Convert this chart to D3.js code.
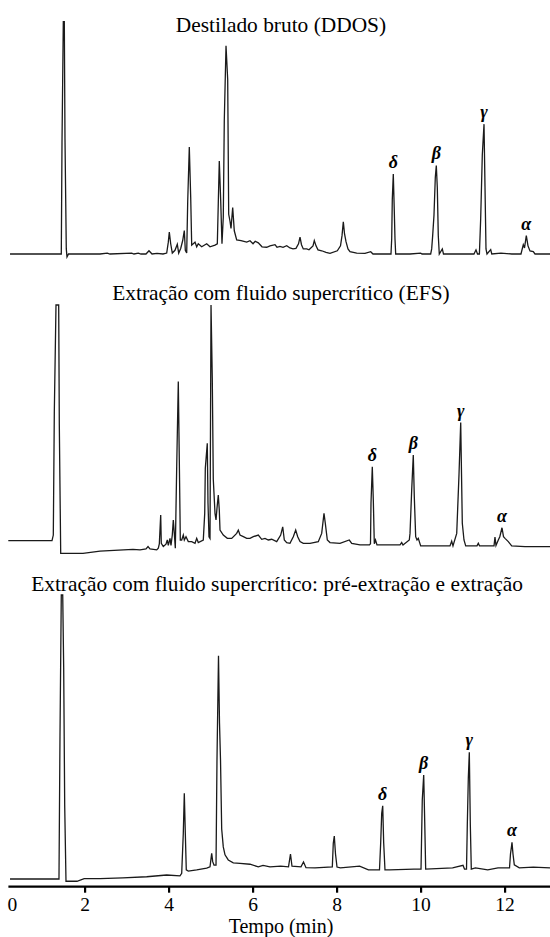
<!DOCTYPE html>
<html><head><meta charset="utf-8">
<script src="https://cdn.jsdelivr.net/npm/d3@7"></script>
<style>
html,body{margin:0;padding:0;background:#fff;}
svg{display:block;}
svg text{font-family:"Liberation Serif","DejaVu Serif","Noto Serif",serif;}
</style></head><body>
<svg id="chart" width="550" height="937"></svg>
<script>
// ---- data (time in min, signal in % of the solvent peak of each run) ----
const panelTitles = [
  "Destilado bruto (DDOS)",
  "Extração com fluido supercrítico (EFS)",
  "Extração com fluido supercrítico: pré-extração e extração"
];
const greekLabels = ["δ", "β", "γ", "α"];
const ddosPeakTimes = [9.350, 10.374, 11.510, 12.517];
const efsPeakTimes = [8.850, 9.826, 10.955, 11.938];
const efsPrePeakTimes = [9.098, 10.074, 11.160, 12.176];
const xTickValues = [0, 2, 4, 6, 8, 10, 12];
const xAxisTitle = "Tempo (min)";

const ddosTrace = [[0.224,0],[1.414,0],[1.445,0],[1.462,47.9],[1.493,100],[1.517,100],[1.533,49.6],[1.564,2.2],[1.581,-1.3],[1.617,0],
[2.367,0],[2.540,0.4],[2.605,0],[3.121,0.4],[3.176,0],[3.279,0.4],[3.343,0],[3.462,0],[3.533,1.4],[3.605,0],[3.724,0.3],[3.867,0],
[3.955,0.4],[3.993,5.1],[4.017,9.4],[4.050,4.4],[4.088,0.4],[4.152,1.6],[4.207,4.2],[4.240,0.4],[4.288,2.4],[4.336,5.8],[4.374,10.1],[4.398,1.6],[4.431,0.4],[4.455,22.6],[4.493,46.1],[4.526,24.6],[4.550,3.8],[4.629,5.1],[4.669,3.1],[4.707,4.4],[4.788,3.1],[4.907,4.4],[4.986,3.1],[5.105,3.8],[5.160,4.4],[5.183,21.8],[5.207,40.0],[5.240,23.3],[5.271,4.4],[5.302,15.8],[5.326,57.5],[5.367,89.6],[5.407,75.1],[5.431,17.1],[5.462,14.1],[5.486,11.0],[5.526,20.0],[5.564,10.0],[5.621,6.1],[5.724,5.8],[5.860,5.1],[5.938,5.7],[6.010,4.4],[6.062,5.5],[6.136,4.8],[6.224,3.1],[6.336,2.9],[6.414,3.5],[6.533,4.0],[6.581,2.9],[6.652,3.3],[6.724,2.9],[6.812,3.6],[6.890,2.6],[6.962,2.2],[7.033,2.4],[7.093,4.4],[7.129,7.3],[7.164,4.0],[7.207,2.2],[7.288,2.2],[7.343,1.8],[7.438,3.5],[7.469,5.8],[7.510,3.5],[7.557,1.8],[7.645,1.4],[7.748,0.7],[7.843,0.3],[8.017,1.4],[8.093,3.5],[8.129,7.9],[8.160,13.9],[8.188,8.8],[8.224,5.3],[8.271,2.2],[8.319,1.0],[8.479,0.4],[8.676,0.3],[8.812,1.0],[8.867,0],
[9.295,0],[9.312,6.6],[9.326,23.4],[9.350,34.4],[9.374,18.3],[9.390,6.6],[9.407,0],[9.748,0],[10.002,0.4],[10.033,0],
[10.240,0],[10.264,2.2],[10.288,8.0],[10.319,16.8],[10.350,32.9],[10.374,38.1],[10.398,28.5],[10.421,8.0],[10.445,0],[10.517,2.2],[10.545,0],
[11.271,0],[11.319,1.8],[11.355,0],[11.400,0],[11.431,15.4],[11.469,42.5],[11.510,55.9],[11.533,29.3],[11.557,2.2],[11.581,0],[11.669,1.9],[11.695,0],[11.912,0.4],[12.171,0],
[12.390,0],[12.445,4.0],[12.474,2.6],[12.517,7.9],[12.557,3.5],[12.605,1.3],[12.683,1.0],[12.724,0],[13.081,0]];

const efsTrace = [[0.183,0],[1.224,0],[1.255,2.4],[1.279,54.7],[1.319,100],[1.383,100],[1.398,49.1],[1.431,-5.4],[1.486,-5.4],[1.962,-5.4],[2.367,-4.4],[3.152,-3.7],[3.319,-3.9],[3.462,-3.5],[3.510,-2.5],[3.557,-3.5],[3.717,-3.9],[3.755,-3.2],[3.779,-1.4],[3.812,10.9],[3.826,-1.1],[3.874,-2.5],[3.938,-1.5],[3.969,0.3],[3.993,-2.0],[4.033,1.0],[4.057,-2.0],[4.088,2.4],[4.112,8.8],[4.136,3.1],[4.160,-3.2],[4.193,31.4],[4.231,67.5],[4.255,34.2],[4.279,0.3],[4.312,0.3],[4.350,2.4],[4.374,0.3],[4.414,1.7],[4.469,-0.4],[4.550,-0.4],[4.629,-1.1],[4.669,1.0],[4.707,-0.8],[4.826,0.3],[4.860,11.6],[4.874,30.7],[4.921,41.3],[4.938,15.9],[4.962,1.7],[4.986,1.0],[5.010,100],[5.040,68.9],[5.064,26.1],[5.105,11.6],[5.129,8.8],[5.152,13.7],[5.183,19.4],[5.207,13.0],[5.224,4.5],[5.302,2.4],[5.398,1.0],[5.502,1.0],[5.621,3.1],[5.660,4.5],[5.700,2.4],[5.779,1.7],[5.860,1.0],[5.938,1.0],[6.017,1.7],[6.136,2.4],[6.217,0.6],[6.295,1.0],[6.374,0.3],[6.455,0.6],[6.574,-0.4],[6.669,2.4],[6.717,5.9],[6.755,0.3],[6.812,-0.8],[6.890,-1.1],[6.969,1.7],[7.026,4.5],[7.074,1.7],[7.129,-0.4],[7.207,-1.1],[7.367,-1.1],[7.564,-0.4],[7.645,3.1],[7.700,11.6],[7.731,7.4],[7.779,0.3],[7.843,-0.8],[8.081,-1.1],[8.302,0.3],[8.360,-1.1],[8.557,-1.8],[8.783,-1.8],[8.807,-1.3],[8.819,15.9],[8.850,31.4],[8.874,17.3],[8.898,-1.3],[8.926,0.3],[8.962,-1.8],[9.510,-1.8],[9.550,-0.8],[9.581,-1.8],[9.731,0.3],[9.748,3.1],[9.788,21.5],[9.826,36.4],[9.850,18.7],[9.883,1.7],[9.914,0.3],[9.945,1.0],[10.002,-2.2],[10.700,-2.2],[10.740,-0.2],[10.771,-2.2],[10.860,3.1],[10.914,27.9],[10.955,50.1],[10.993,7.4],[11.033,0.3],[11.074,-2.2],[11.343,-2.2],[11.374,-1.1],[11.402,-2.2],[11.748,-2.2],[11.771,1.5],[11.795,-2.0],[11.850,0.3],[11.886,1.7],[11.938,5.5],[11.974,1.7],[12.010,1.0],[12.088,-0.4],[12.169,-2.2],[12.486,-2.5],[13.081,-2.5]];

const efsPreTrace = [[0.224,0],[1.390,0],[1.414,50.1],[1.445,100],[1.479,100],[1.502,74.6],[1.526,26.1],[1.557,-0.8],[1.819,-0.8],[1.990,0.1],[2.367,0.1],[2.910,0.4],[3.479,0.8],[3.955,1.4],[4.271,1.1],[4.312,2.0],[4.350,16.1],[4.374,30.2],[4.398,16.1],[4.421,3.2],[4.469,2.8],[4.669,3.2],[4.907,3.8],[4.986,4.3],[5.026,9.0],[5.050,6.1],[5.081,4.9],[5.129,4.9],[5.152,41.9],[5.188,78.6],[5.212,54.9],[5.236,41.9],[5.264,17.6],[5.302,11.3],[5.343,8.5],[5.421,6.7],[5.540,5.7],[5.700,5.5],[5.938,5.2],[6.136,4.3],[6.248,4.8],[6.414,4.3],[6.669,4.5],[6.855,4.3],[6.902,8.8],[6.938,4.5],[7.152,4.3],[7.212,6.0],[7.271,4.0],[7.486,3.9],[7.898,4.3],[7.921,12.6],[7.945,15.1],[7.974,8.8],[8.010,4.2],[8.090,3.9],[8.548,4.5],[8.757,3.2],[9.021,3.2],[9.050,12.8],[9.074,23.1],[9.098,25.8],[9.121,12.8],[9.152,3.2],[9.260,3.2],[9.843,3.5],[10.010,3.5],[10.040,27.8],[10.074,36.6],[10.098,20.2],[10.121,3.5],[10.762,3.9],[11.010,4.8],[11.045,3.5],[11.093,3.5],[11.112,19.0],[11.136,35.5],[11.160,44.6],[11.184,19.0],[11.207,3.5],[11.305,3.9],[11.598,3.2],[11.843,3.9],[12.117,3.9],[12.140,8.8],[12.164,11.4],[12.176,12.9],[12.200,8.8],[12.231,5.0],[12.350,3.9],[12.683,4.2],[13.081,3.9]];

// ---- layout ----
const W = 550, H = 937;
const svg = d3.select("#chart");
const x = d3.scaleLinear().domain([0, 13.081]).range([0.6, 550]);

const panels = [
  {trace: ddosTrace,   peaks: ddosPeakTimes,   title: panelTitles[0], base: 254,   top: 21.7, tx: 281, ty: 32},
  {trace: efsTrace,    peaks: efsPeakTimes,    title: panelTitles[1], base: 540.7, top: 305,  tx: 281, ty: 299.5},
  {trace: efsPreTrace, peaks: efsPrePeakTimes, title: panelTitles[2], base: 879,   top: 595,  tx: 277, ty: 591}
];

panels.forEach(p => {
  const y = d3.scaleLinear().domain([0, 100]).range([p.base, p.top]);
  const line = d3.line().x(d => x(d[0])).y(d => y(d[1]));
  svg.append("path")
    .datum(p.trace)
    .attr("d", line)
    .attr("fill", "none")
    .attr("stroke", "#1a1a1a")
    .attr("stroke-width", 1.3)
    .attr("stroke-linejoin", "miter");

  svg.append("text")
    .attr("x", p.tx).attr("y", p.ty)
    .attr("text-anchor", "middle")
    .attr("font-size", 21.4)
    .attr("fill", "#000")
    .text(p.title);

  const apexes = p.peaks.map(t => {
    const near = p.trace.filter(d => Math.abs(d[0] - t) < 0.06);
    return near.reduce((a, b) => (b[1] > a[1] ? b : a));
  });
  svg.selectAll(null).data(apexes).enter().append("text")
    .attr("x", d => x(d[0]))
    .attr("y", d => y(d[1]) - 6)
    .attr("text-anchor", "middle")
    .attr("font-style", "italic")
    .attr("font-weight", "bold")
    .attr("font-size", 18)
    .attr("fill", "#000")
    .text((d, i) => greekLabels[i]);
});

// ---- x axis ----
const axisY = 886.7;
const axis = d3.axisBottom(x)
  .tickValues(xTickValues)
  .tickSize(6)
  .tickPadding(4)
  .tickFormat(d3.format("d"));
const gAxis = svg.append("g").attr("transform", `translate(0,${axisY})`).call(axis);
gAxis.attr("font-family", null);
gAxis.select(".domain").remove();
gAxis.append("line")
  .attr("x1", 8.4).attr("x2", W)
  .attr("y1", 0).attr("y2", 0)
  .attr("stroke", "#000").attr("stroke-width", 2.2);
gAxis.selectAll(".tick line").attr("stroke", "#000").attr("stroke-width", 2.2);
gAxis.selectAll(".tick text")
  .attr("font-size", 19.5)
  .attr("fill", "#000");
gAxis.selectAll(".tick").filter(d => d === 0).each(function() {
  d3.select(this).select("line").remove();
  d3.select(this).select("text").attr("text-anchor", "start").attr("x", 6.4);
});

svg.append("text")
  .attr("x", 281).attr("y", 932.5)
  .attr("text-anchor", "middle")
  .attr("font-size", 20)
  .attr("fill", "#000")
  .text(xAxisTitle);
</script>
</body></html>
